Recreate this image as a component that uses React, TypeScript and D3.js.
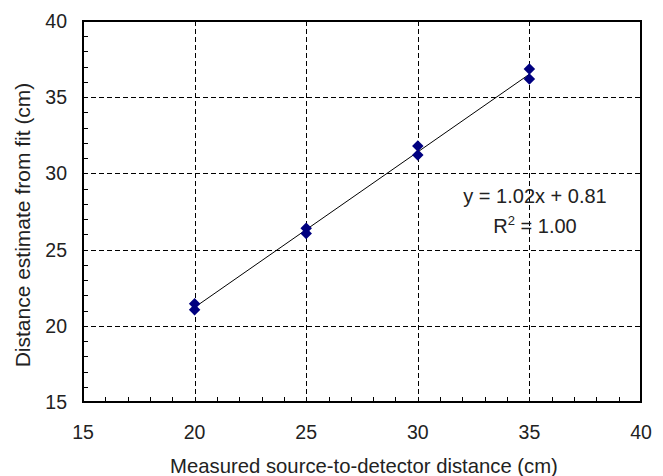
import React, { useEffect, useRef } from 'react'
import * as d3 from 'd3'

// measured distance (cm) and the two fit estimates at each
const measured = [20, 20, 25, 25, 30, 30, 35, 35]
const estimate = [21.45, 21.05, 26.4, 26.05, 31.8, 31.2, 36.85, 36.2]
const xTicks = [15, 20, 25, 30, 35, 40]
const yTicks = [15, 20, 25, 30, 35, 40]
const slope = 1.02
const intercept = 0.81
const eqnLabel = 'y = 1.02x + 0.81'
const r2Value = '1.00'

const width = 663
const height = 476
const margin = { top: 21, right: 22, bottom: 74, left: 83 }

export default function App() {
  const node = useRef<SVGSVGElement>(null)

  useEffect(() => {
    const svg = d3.select(node.current)
    svg.selectAll('*').remove()

    const x = d3.scaleLinear()
      .domain([15, 40])
      .range([margin.left, width - margin.right])
    const y = d3.scaleLinear()
      .domain([15, 40])
      .range([height - margin.bottom, margin.top])

    const font = 'Liberation Sans, Arial, sans-serif'
    const ink = '#222'

    // dashed grid
    const grid = svg.append('g')
      .attr('stroke', '#000')
      .attr('stroke-width', 1)
      .attr('stroke-dasharray', '5,3')
    grid.selectAll('.vg')
      .data(xTicks.slice(1, -1))
      .join('line')
        .attr('x1', d => Math.round(x(d)) + 0.5)
        .attr('x2', d => Math.round(x(d)) + 0.5)
        .attr('y1', y(40))
        .attr('y2', y(15))
    grid.selectAll('.hg')
      .data(yTicks.slice(1, -1))
      .join('line')
        .attr('y1', d => Math.round(y(d)) + 0.5)
        .attr('y2', d => Math.round(y(d)) + 0.5)
        .attr('x1', x(15))
        .attr('x2', x(40))

    // minor ticks (inside)
    const minor = d3.range(16, 40)
    svg.append('g')
      .attr('stroke', '#000')
      .selectAll('line')
      .data(minor)
      .join('line')
        .attr('x1', x(15))
        .attr('x2', x(15) + 5)
        .attr('y1', d => Math.round(y(d)) + 0.5)
        .attr('y2', d => Math.round(y(d)) + 0.5)
    svg.append('g')
      .attr('stroke', '#000')
      .selectAll('line')
      .data(minor)
      .join('line')
        .attr('y1', y(15))
        .attr('y2', y(15) - 5)
        .attr('x1', d => Math.round(x(d)) + 0.5)
        .attr('x2', d => Math.round(x(d)) + 0.5)

    // frame
    svg.append('rect')
      .attr('x', x(15))
      .attr('y', y(40))
      .attr('width', x(40) - x(15))
      .attr('height', y(15) - y(40))
      .attr('fill', 'none')
      .attr('stroke', '#000')
      .attr('stroke-width', 2)

    // tick labels
    svg.append('g')
      .attr('font-family', font)
      .attr('font-size', 19.5)
      .attr('fill', ink)
      .attr('text-anchor', 'middle')
      .selectAll('text')
      .data(xTicks)
      .join('text')
        .attr('x', d => x(d))
        .attr('y', 439)
        .text(d => d)
    svg.append('g')
      .attr('font-family', font)
      .attr('font-size', 19.5)
      .attr('fill', ink)
      .attr('text-anchor', 'end')
      .selectAll('text')
      .data(yTicks)
      .join('text')
        .attr('x', 67)
        .attr('y', d => y(d) + 7)
        .text(d => d)

    // axis titles
    svg.append('text')
      .attr('x', 364)
      .attr('y', 473)
      .attr('text-anchor', 'middle')
      .attr('font-family', font)
      .attr('font-size', 20.3)
      .attr('fill', ink)
      .text('Measured source-to-detector distance (cm)')
    svg.append('text')
      .attr('transform', `translate(29.5,225) rotate(-90)`)
      .attr('text-anchor', 'middle')
      .attr('font-family', font)
      .attr('font-size', 21)
      .attr('fill', ink)
      .text('Distance estimate from fit (cm)')

    // trend line
    const [x0, x1] = d3.extent(measured) as [number, number]
    svg.append('line')
      .attr('x1', x(x0))
      .attr('y1', y(slope * x0 + intercept))
      .attr('x2', x(x1))
      .attr('y2', y(slope * x1 + intercept))
      .attr('stroke', '#000')
      .attr('stroke-width', 1)

    // points
    const diamond = d3.symbol(d3.symbolSquare, 66)
    svg.append('g')
      .attr('fill', '#000080')
      .selectAll('path')
      .data(measured.map((m, i) => [m, estimate[i]]))
      .join('path')
        .attr('d', diamond)
        .attr('transform', d => `translate(${x(d[0])},${y(d[1])}) rotate(45)`)

    // equation
    const eq = svg.append('g')
      .attr('font-family', font)
      .attr('font-size', 20)
      .attr('fill', ink)
      .attr('text-anchor', 'middle')
    eq.append('text')
      .attr('x', 535)
      .attr('y', 203)
      .text(eqnLabel)
    const r2 = eq.append('text')
      .attr('x', 535)
      .attr('y', 233)
    r2.append('tspan').text('R')
    r2.append('tspan').attr('font-size', 13).attr('dy', -8).text('2')
    r2.append('tspan').attr('dy', 8).text(` = ${r2Value}`)
  }, [])

  return (
    <svg ref={node} width={width} height={height}
      style={{ position: 'absolute', left: 0, top: 0, background: '#fff' }} />
  )
}
